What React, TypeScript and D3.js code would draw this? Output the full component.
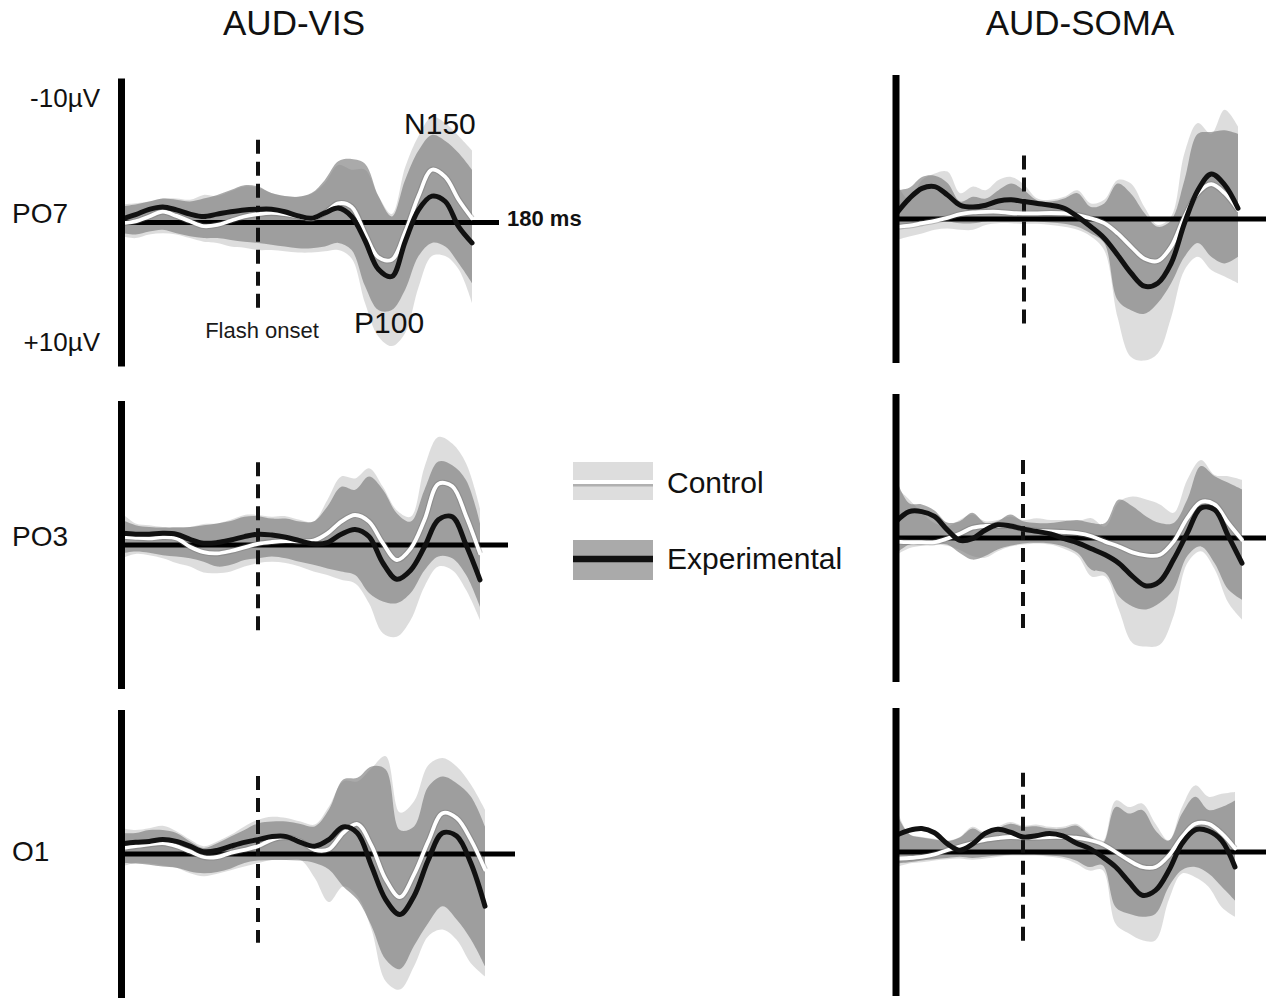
import React, { useEffect, useRef } from 'react';
import * as d3 from 'd3';

// time samples (ms relative to flash onset)
const TIME_MS = [-100, -90, -80, -70, -60, -50, -40, -30, -20, -10, 0, 10, 20, 30, 40, 50, 60, 70, 80, 90, 100, 110, 120, 130, 140, 150, 160];

const COLUMN_TITLES = ['AUD-VIS', 'AUD-SOMA'];
const ELECTRODES = ['PO7', 'PO3', 'O1'];
const LEGEND_LABELS = ['Control', 'Experimental'];

// values in µV, negative plotted upward
// AUD-VIS PO7
const VIS_PO7_CTRL_MEAN = [0.05, -0.1, -0.5, -0.9, -0.55, -0.1, 0.3, 0.2, -0.15, -0.5, -0.7, -0.8, -0.7, -0.5, -0.3, -0.8, -1.6, -1.3, 0.9, 2.9, 3.1, 0.8, -2.2, -4.4, -3.8, -1.9, -0.35];
const VIS_PO7_EXP_MEAN = [-0.3, -0.65, -1.1, -1.3, -1.05, -0.7, -0.5, -0.7, -0.9, -1.05, -1.1, -1.1, -0.9, -0.55, -0.35, -0.8, -1.2, -0.5, 1.5, 3.9, 4.5, 1.6, -1.05, -2.2, -1.75, 0.35, 1.7];
const VIS_PO7_CTRL_TOP = [-1.5, -1.6, -1.75, -2.0, -2.0, -1.9, -2.3, -2.2, -2.6, -3.0, -2.9, -2.45, -2.2, -2.15, -2.4, -3.3, -4.8, -4.4, -4.4, -2.2, -0.7, -4.6, -7.2, -8.8, -8.3, -7.2, -6.0];
const VIS_PO7_CTRL_BOT = [1.15, 1.3, 1.0, 0.9, 1.0, 1.3, 1.6, 1.7, 2.0, 2.1, 2.3, 2.3, 2.4, 2.5, 2.5, 2.4, 2.3, 3.0, 6.7, 9.5, 10.3, 9.2, 5.4, 2.8, 2.8, 3.9, 6.7];
const VIS_PO7_EXP_TOP = [-1.35, -1.5, -1.75, -2.0, -1.9, -1.75, -2.0, -2.3, -2.7, -3.1, -3.0, -2.45, -2.2, -2.15, -2.45, -3.55, -5.1, -5.3, -4.9, -2.2, -0.5, -3.55, -6.0, -7.3, -6.8, -5.8, -4.4];
const VIS_PO7_EXP_BOT = [0.9, 1.0, 0.75, 0.6, 0.9, 1.15, 1.3, 1.3, 1.45, 1.6, 1.7, 1.85, 2.0, 2.15, 2.15, 2.0, 1.7, 2.3, 5.3, 7.3, 7.3, 5.6, 2.8, 1.7, 2.0, 3.4, 5.05];

// AUD-SOMA PO7
const SOMA_PO7_CTRL_MEAN = [0.65, 0.55, 0.35, 0.15, -0.1, -0.4, -0.55, -0.6, -0.6, -0.5, -0.47, -0.47, -0.5, -0.47, -0.33, -0.05, 0.35, 1.2, 2.3, 3.3, 3.5, 2.3, -0.2, -2.15, -2.9, -2.15, -0.75];
const SOMA_PO7_EXP_MEAN = [-0.47, -1.7, -2.55, -2.7, -2.0, -1.15, -1.0, -1.15, -1.5, -1.6, -1.45, -1.3, -1.15, -0.9, -0.2, 0.65, 1.6, 3.0, 4.5, 5.6, 5.35, 3.7, 0.35, -2.4, -3.75, -2.85, -0.9];
const SOMA_PO7_CTRL_TOP = [-2.95, -1.6, -3.25, -3.8, -3.95, -2.15, -2.7, -2.4, -3.25, -3.5, -2.85, -1.7, -1.6, -1.85, -2.4, -1.3, -1.6, -3.25, -2.95, -1.0, 0.5, -0.2, -5.5, -8.0, -7.1, -9.1, -7.7];
const SOMA_PO7_CTRL_BOT = [1.75, 1.45, 1.2, 0.9, 0.8, 0.9, 0.9, 0.5, 0.35, 0.35, 0.4, 0.4, 0.5, 0.65, 0.9, 1.45, 2.6, 8.2, 11.5, 11.8, 11.2, 8.2, 4.25, 3.15, 4.25, 4.8, 5.35];
const SOMA_PO7_EXP_TOP = [-2.4, -2.6, -3.5, -3.6, -3.0, -1.45, -1.85, -1.7, -2.4, -2.95, -2.4, -1.55, -1.45, -1.7, -2.15, -1.0, -1.3, -2.95, -2.1, -0.5, 0.65, 0.1, -3.25, -7.1, -7.25, -7.4, -7.1];
const SOMA_PO7_EXP_BOT = [0.9, 0.65, 0.35, 0.2, 0.2, 0.35, 0.35, 0.2, 0.2, 0.2, 0.2, 0.2, 0.3, 0.4, 0.65, 1.2, 2.0, 6.75, 7.6, 7.9, 7.0, 5.35, 3.15, 2.0, 3.15, 3.7, 3.15];

// AUD-VIS PO3
const VIS_PO3_CTRL_MEAN = [-0.7, -0.6, -0.55, -0.65, -0.55, 0.15, 0.6, 0.7, 0.5, 0.2, -0.1, -0.25, -0.33, -0.3, -0.36, -0.97, -1.95, -2.5, -1.95, -0.15, 1.25, 0.3, -2.1, -5.1, -4.9, -2.4, 0.7];
const VIS_PO3_EXP_MEAN = [-0.97, -0.9, -0.9, -0.97, -0.9, -0.47, -0.15, -0.2, -0.42, -0.7, -0.9, -0.83, -0.65, -0.36, -0.1, -0.2, -0.9, -1.3, -0.7, 1.5, 2.85, 2.1, 0.15, -2.1, -2.35, 0.0, 2.9];
const VIS_PO3_CTRL_TOP = [-2.65, -1.8, -1.65, -1.5, -1.5, -1.5, -1.75, -1.8, -2.1, -2.5, -2.5, -2.35, -2.4, -2.1, -1.95, -3.75, -5.7, -5.55, -6.4, -4.85, -2.9, -2.35, -6.5, -9.0, -8.45, -6.8, -3.05];
const VIS_PO3_CTRL_BOT = [1.1, 0.75, 0.85, 1.1, 1.5, 1.8, 2.3, 2.35, 2.2, 1.8, 1.5, 1.4, 1.5, 1.8, 2.2, 2.5, 2.9, 3.2, 4.85, 7.35, 7.65, 6.25, 3.45, 1.8, 2.1, 3.75, 6.25];
const VIS_PO3_EXP_TOP = [-2.1, -1.65, -1.5, -1.45, -1.45, -1.5, -1.65, -1.8, -2.0, -2.35, -2.4, -2.2, -2.2, -1.95, -1.95, -3.2, -4.85, -4.6, -5.7, -4.6, -2.65, -1.95, -4.6, -6.95, -6.65, -5.4, -1.8];
const VIS_PO3_EXP_BOT = [0.7, 0.55, 0.65, 0.85, 0.95, 1.1, 1.4, 1.8, 1.65, 1.25, 1.1, 0.95, 1.1, 1.4, 1.65, 1.95, 2.2, 2.5, 4.0, 4.7, 4.85, 4.0, 2.1, 0.95, 1.1, 2.5, 5.15];

// AUD-SOMA PO3
const SOMA_PO3_CTRL_MEAN = [0.3, 0.35, 0.35, 0.35, 0.05, -0.35, -0.85, -1.0, -1.0, -1.0, -0.75, -0.6, -0.55, -0.5, -0.4, -0.15, 0.3, 0.7, 1.2, 1.45, 1.4, 0.3, -1.65, -3.0, -2.8, -1.25, 0.15];
const SOMA_PO3_EXP_MEAN = [-1.4, -2.2, -2.2, -1.8, -0.7, 0.2, 0.05, -0.65, -1.1, -1.0, -0.75, -0.55, -0.35, 0.05, 0.4, 0.9, 1.4, 2.1, 3.2, 4.0, 3.6, 1.8, -0.4, -2.5, -2.35, -0.15, 2.1];
const SOMA_PO3_CTRL_TOP = [-4.2, -3.2, -2.1, -1.25, -0.95, -1.5, -1.95, -1.4, -1.5, -1.8, -1.5, -1.65, -1.5, -1.5, -1.4, -1.65, -0.95, -3.0, -3.45, -3.2, -2.8, -2.1, -4.85, -6.5, -5.25, -5.15, -4.85];
const SOMA_PO3_CTRL_BOT = [1.4, 0.85, 0.65, 0.55, 0.65, 1.0, 1.5, 1.65, 1.1, 0.7, 0.55, 0.45, 0.55, 0.9, 1.5, 3.2, 3.2, 5.95, 8.75, 9.05, 8.9, 6.5, 2.1, 1.1, 2.6, 5.4, 6.8];
const SOMA_PO3_EXP_TOP = [-4.85, -2.9, -2.8, -2.3, -1.3, -1.4, -2.1, -1.25, -1.4, -1.95, -1.4, -1.25, -1.25, -1.4, -1.5, -1.25, -1.25, -3.2, -2.65, -1.8, -1.25, -1.25, -3.2, -6.0, -5.15, -4.6, -4.05];
const SOMA_PO3_EXP_BOT = [1.25, 0.55, 0.4, 0.45, 0.55, 1.25, 1.8, 1.5, 0.95, 0.65, 0.45, 0.4, 0.45, 0.7, 1.25, 2.65, 2.9, 4.85, 5.7, 5.95, 5.4, 4.3, 1.5, 0.7, 2.1, 4.3, 5.15];

// AUD-VIS O1
const VIS_O1_CTRL_MEAN = [-0.5, -0.65, -0.8, -0.9, -0.65, -0.2, 0.25, 0.25, -0.1, -0.35, -0.65, -1.2, -1.4, -1.05, -0.35, -0.4, -1.75, -2.5, -0.7, 2.1, 3.6, 1.7, -1.05, -3.4, -3.0, -1.2, 1.3];
const VIS_O1_EXP_MEAN = [-0.85, -0.97, -1.05, -1.2, -1.05, -0.65, -0.2, -0.3, -0.65, -0.97, -1.2, -1.45, -1.45, -0.97, -0.65, -1.2, -2.25, -1.75, 1.0, 3.8, 5.05, 3.5, 0.5, -1.75, -1.5, 0.75, 4.35];
const VIS_O1_CTRL_TOP = [-2.15, -2.0, -2.15, -2.35, -1.9, -1.2, -0.65, -1.05, -1.6, -2.3, -2.85, -3.1, -3.0, -2.7, -2.45, -3.95, -6.05, -6.05, -7.15, -8.15, -3.45, -4.4, -7.4, -8.0, -7.3, -5.8, -3.7];
const VIS_O1_CTRL_BOT = [1.05, 0.75, 0.8, 0.95, 1.15, 1.6, 1.85, 1.65, 1.35, 1.05, 0.75, 0.5, 0.5, 0.5, 2.0, 4.0, 2.7, 3.5, 6.3, 10.6, 11.3, 9.35, 6.85, 6.3, 7.15, 9.1, 10.2];
const VIS_O1_EXP_TOP = [-1.75, -1.75, -2.0, -2.0, -1.75, -1.05, -0.5, -0.9, -1.45, -2.0, -2.55, -2.7, -2.7, -2.5, -2.3, -3.7, -6.2, -6.35, -7.3, -7.05, -2.0, -2.3, -5.6, -6.45, -5.9, -4.8, -2.3];
const VIS_O1_EXP_BOT = [0.75, 0.8, 0.9, 1.05, 1.15, 1.45, 1.6, 1.5, 1.2, 0.75, 0.55, 0.5, 0.5, 0.55, 0.75, 1.3, 2.7, 3.8, 6.0, 8.8, 9.6, 7.65, 5.75, 4.35, 5.45, 7.1, 9.35];

// AUD-SOMA O1
const SOMA_O1_CTRL_MEAN = [0.55, 0.5, 0.4, 0.2, -0.15, -0.45, -0.75, -1.0, -1.15, -1.25, -1.2, -1.2, -1.25, -1.25, -1.2, -1.0, -0.65, 0.0, 0.7, 1.25, 1.25, 0.3, -1.25, -2.35, -2.35, -1.55, -0.3];
const SOMA_O1_EXP_MEAN = [-1.4, -1.8, -1.95, -1.6, -0.7, -0.15, -0.65, -1.55, -1.9, -1.65, -1.25, -1.35, -1.55, -1.35, -0.75, -0.3, 0.4, 1.25, 2.5, 3.6, 3.2, 1.55, -0.7, -1.85, -1.75, -0.95, 1.25];
const SOMA_O1_CTRL_TOP = [-3.6, -1.5, -1.25, -1.1, -0.95, -1.25, -2.1, -1.65, -2.1, -2.5, -2.2, -2.3, -2.1, -2.1, -2.35, -1.55, -0.85, -4.3, -3.75, -4.05, -2.35, -0.95, -3.75, -5.55, -4.6, -4.85, -5.0];
const SOMA_O1_CTRL_BOT = [1.25, 0.95, 0.85, 0.7, 0.6, 0.55, 0.65, 0.55, 0.4, 0.3, 0.3, 0.3, 0.4, 0.55, 0.95, 1.55, 1.5, 6.0, 6.8, 7.35, 7.35, 4.0, 1.8, 2.1, 2.9, 4.6, 5.4];
const SOMA_O1_EXP_TOP = [-3.2, -1.5, -1.2, -1.05, -0.9, -1.2, -1.95, -1.5, -1.95, -2.35, -2.1, -2.15, -1.95, -1.95, -2.2, -1.4, -0.7, -3.75, -3.2, -3.5, -1.8, -0.95, -3.2, -4.6, -3.5, -3.75, -4.3];
const SOMA_O1_EXP_BOT = [0.95, 0.85, 0.7, 0.6, 0.5, 0.4, 0.5, 0.4, 0.3, 0.2, 0.2, 0.2, 0.3, 0.4, 0.7, 1.25, 1.1, 4.6, 5.15, 5.4, 5.15, 2.9, 1.5, 1.25, 1.8, 2.9, 4.05];

const W = 1274;
const H = 999;
const PX_PER_UV = 12;
const FONT = '"Liberation Sans", Arial, Helvetica, sans-serif';

// panel layout
const PANELS = [
  { col: 0, row: 0, axisX: 121.5, base: 222.5, xEnd: 472, lineEnd: 499, onsetX: 258, dash: [-6.9, 7.1], labelDy: 0,
    ctrlMean: VIS_PO7_CTRL_MEAN, expMean: VIS_PO7_EXP_MEAN, ctrlTop: VIS_PO7_CTRL_TOP, ctrlBot: VIS_PO7_CTRL_BOT, expTop: VIS_PO7_EXP_TOP, expBot: VIS_PO7_EXP_BOT },
  { col: 1, row: 0, axisX: 896, base: 219, xEnd: 1238, lineEnd: 1266, onsetX: 1024, dash: [-5.3, 8.7], labelDy: 0,
    ctrlMean: SOMA_PO7_CTRL_MEAN, expMean: SOMA_PO7_EXP_MEAN, ctrlTop: SOMA_PO7_CTRL_TOP, ctrlBot: SOMA_PO7_CTRL_BOT, expTop: SOMA_PO7_EXP_TOP, expBot: SOMA_PO7_EXP_BOT },
  { col: 0, row: 1, axisX: 121.5, base: 545, xEnd: 480, lineEnd: 508, onsetX: 258, dash: [-6.9, 7.25], labelDy: 1,
    ctrlMean: VIS_PO3_CTRL_MEAN, expMean: VIS_PO3_EXP_MEAN, ctrlTop: VIS_PO3_CTRL_TOP, ctrlBot: VIS_PO3_CTRL_BOT, expTop: VIS_PO3_EXP_TOP, expBot: VIS_PO3_EXP_BOT },
  { col: 1, row: 1, axisX: 896, base: 538, xEnd: 1242, lineEnd: 1266, onsetX: 1023, dash: [-6.5, 7.7], labelDy: 0,
    ctrlMean: SOMA_PO3_CTRL_MEAN, expMean: SOMA_PO3_EXP_MEAN, ctrlTop: SOMA_PO3_CTRL_TOP, ctrlBot: SOMA_PO3_CTRL_BOT, expTop: SOMA_PO3_EXP_TOP, expBot: SOMA_PO3_EXP_BOT },
  { col: 0, row: 2, axisX: 121.5, base: 854, xEnd: 485, lineEnd: 515, onsetX: 258, dash: [-6.5, 7.4], labelDy: 7,
    ctrlMean: VIS_O1_CTRL_MEAN, expMean: VIS_O1_EXP_MEAN, ctrlTop: VIS_O1_CTRL_TOP, ctrlBot: VIS_O1_CTRL_BOT, expTop: VIS_O1_EXP_TOP, expBot: VIS_O1_EXP_BOT },
  { col: 1, row: 2, axisX: 896, base: 852, xEnd: 1235, lineEnd: 1266, onsetX: 1023, dash: [-6.6, 7.5], labelDy: 0,
    ctrlMean: SOMA_O1_CTRL_MEAN, expMean: SOMA_O1_EXP_MEAN, ctrlTop: SOMA_O1_CTRL_TOP, ctrlBot: SOMA_O1_CTRL_BOT, expTop: SOMA_O1_EXP_TOP, expBot: SOMA_O1_EXP_BOT },
];

const CTRL_FILL = '#d9d9d9';
const CTRL_OPACITY = 0.9;
const EXP_FILL = '#7a7a7a';
const EXP_OPACITY = 0.64;

export default function App() {
  const svgRef = useRef<SVGSVGElement>(null);

  useEffect(() => {
    const svg = d3.select(svgRef.current);
    svg.selectAll('*').remove();

    svg.append('rect').attr('width', W).attr('height', H).attr('fill', '#fff');

    // column titles
    svg.selectAll('.title')
      .data(COLUMN_TITLES)
      .enter()
      .append('text')
      .attr('class', 'title')
      .attr('x', (d, i) => (i === 0 ? 294 : 1080))
      .attr('y', 35)
      .attr('text-anchor', 'middle')
      .style('font-family', FONT)
      .style('font-size', '35px')
      .attr('fill', '#111')
      .text(d => d);

    PANELS.forEach(p => {
      const g = svg.append('g');
      // flash onset pinned to the dashed marker position of each panel
      const x = d3.scaleLinear().domain([-100, 0, 160]).range([p.axisX + 0.5, p.onsetX, p.xEnd]);
      const y = d3.scaleLinear().domain([-12, 12]).range([p.base - 12 * PX_PER_UV, p.base + 12 * PX_PER_UV]);
      const idx = d3.range(TIME_MS.length);

      const band = (top: number[], bot: number[]) => d3.area<number>()
        .x(i => x(TIME_MS[i]))
        .y0(i => y(bot[i]))
        .y1(i => y(top[i]))
        .curve(d3.curveCatmullRom.alpha(0.5))(idx);

      const line = (vals: number[]) => d3.line<number>()
        .x(i => x(TIME_MS[i]))
        .y(i => y(vals[i]))
        .curve(d3.curveCatmullRom.alpha(0.5))(idx);

      g.append('path').attr('d', band(p.ctrlTop, p.ctrlBot)).attr('fill', CTRL_FILL).attr('fill-opacity', CTRL_OPACITY);
      g.append('path').attr('d', band(p.expTop, p.expBot)).attr('fill', EXP_FILL).attr('fill-opacity', EXP_OPACITY);

      // zero line
      g.append('line')
        .attr('x1', p.axisX).attr('x2', p.lineEnd)
        .attr('y1', y(0)).attr('y2', y(0))
        .attr('stroke', '#000').attr('stroke-width', 4.8);

      // flash onset
      g.append('line')
        .attr('x1', x(0)).attr('x2', x(0))
        .attr('y1', y(p.dash[0])).attr('y2', y(p.dash[1]))
        .attr('stroke', '#111').attr('stroke-width', 4)
        .attr('stroke-dasharray', '14,8');

      // control mean (white with soft edge)
      g.append('path').attr('d', line(p.ctrlMean)).attr('fill', 'none')
        .attr('stroke', 'rgba(110,110,110,0.35)').attr('stroke-width', 6);
      g.append('path').attr('d', line(p.ctrlMean)).attr('fill', 'none')
        .attr('stroke', '#fff').attr('stroke-width', 3.8).attr('stroke-linecap', 'round');

      // experimental mean
      g.append('path').attr('d', line(p.expMean)).attr('fill', 'none')
        .attr('stroke', '#111').attr('stroke-width', 5).attr('stroke-linecap', 'round');

      // vertical axis
      g.append('line')
        .attr('x1', p.axisX).attr('x2', p.axisX)
        .attr('y1', y(-12)).attr('y2', y(12))
        .attr('stroke', '#000').attr('stroke-width', 7);

      if (p.col === 0) {
        g.append('text')
          .attr('x', 12).attr('y', p.base + p.labelDy)
          .style('font-family', FONT).style('font-size', '28px').attr('fill', '#111')
          .text(ELECTRODES[p.row]);
      }

      if (p.col === 0 && p.row === 0) {
        g.append('text')
          .attr('x', 100).attr('y', y(-10) + 4)
          .attr('text-anchor', 'end')
          .style('font-family', FONT).style('font-size', '26px').attr('fill', '#111')
          .text('-10µV');
        g.append('text')
          .attr('x', 100).attr('y', y(10) + 8)
          .attr('text-anchor', 'end')
          .style('font-family', FONT).style('font-size', '26px').attr('fill', '#111')
          .text('+10µV');
        g.append('text')
          .attr('x', p.lineEnd + 8).attr('y', y(0) + 3)
          .style('font-family', FONT).style('font-size', '22px').style('font-weight', 'bold').attr('fill', '#111')
          .text('180 ms');
        g.append('text')
          .attr('x', x(136)).attr('y', y(-7.4))
          .attr('text-anchor', 'middle')
          .style('font-family', FONT).style('font-size', '30px').attr('fill', '#111')
          .text('N150');
        g.append('text')
          .attr('x', x(98)).attr('y', y(9.2))
          .attr('text-anchor', 'middle')
          .style('font-family', FONT).style('font-size', '30px').attr('fill', '#111')
          .text('P100');
        g.append('text')
          .attr('x', x(0) + 4).attr('y', y(9.6))
          .attr('text-anchor', 'middle')
          .style('font-family', FONT).style('font-size', '22px').attr('fill', '#1a1a1a')
          .text('Flash onset');
      }
    });

    // legend
    const legend = svg.append('g').attr('transform', 'translate(573,462)');
    LEGEND_LABELS.forEach((label, i) => {
      const ly = i * 78;
      const row = legend.append('g').attr('transform', `translate(0,${ly})`);
      if (i === 0) {
        row.append('rect').attr('width', 80).attr('height', 38).attr('fill', CTRL_FILL).attr('fill-opacity', CTRL_OPACITY);
        row.append('line').attr('x1', 0).attr('x2', 80).attr('y1', 22.5).attr('y2', 22.5)
          .attr('stroke', 'rgba(110,110,110,0.4)').attr('stroke-width', 4);
        row.append('line').attr('x1', 0).attr('x2', 80).attr('y1', 20).attr('y2', 20)
          .attr('stroke', '#fff').attr('stroke-width', 4);
      } else {
        row.append('rect').attr('width', 80).attr('height', 40).attr('fill', EXP_FILL).attr('fill-opacity', EXP_OPACITY);
        row.append('line').attr('x1', 0).attr('x2', 80).attr('y1', 19).attr('y2', 19)
          .attr('stroke', '#111').attr('stroke-width', 6.5);
      }
      row.append('text')
        .attr('x', 94).attr('y', i === 0 ? 31 : 29)
        .style('font-family', FONT).style('font-size', '30px').attr('fill', '#111')
        .text(label);
    });
  }, []);

  return (
    <svg ref={svgRef} width={W} height={H}
      style={{ position: 'absolute', left: 0, top: 0, display: 'block' }} />
  );
}
